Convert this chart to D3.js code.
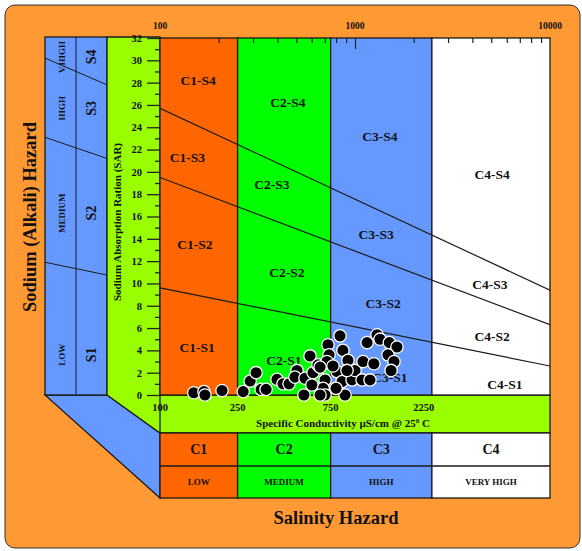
<!DOCTYPE html>
<html>
<head>
<meta charset="utf-8">
<script src="https://cdn.jsdelivr.net/npm/d3@7"></script>
<style>
  body { margin: 0; background: #fff; }
  text { font-family: "Liberation Serif", "Times New Roman", serif; font-weight: bold; fill: #111; }
</style>
</head>
<body>
<script>
// Data
var conductivity = [149, 168, 170, 208, 267, 290, 311, 330, 350, 398, 427, 459, 504, 492, 554, 588, 609, 646,
    547, 702, 686, 702, 727, 736, 718, 838, 867, 920, 809, 858, 889, 966, 1000, 1087, 1099, 1153, 1194, 1250,
    1297, 1343, 1500, 1641, 1476, 1585, 1531, 662, 662, 771, 910, 601, 799];
var sar = [0.2, 0.3, 0.0, 0.4, 0.3, 1.25, 2.0, 0.5, 0.5, 1.4, 1.0, 1.0, 2.2, 1.6, 1.5, 3.5, 2.0, 2.7,
    0.0, 1.35, 0.6, 0.0, 4.5, 3.6, 3.0, 5.3, 4.0, 3.1, 2.1, 1.2, 0.0, 1.35, 2.2, 1.35, 3.0, 4.7, 1.35, 2.8,
    5.4, 5.0, 4.7, 4.3, 3.6, 3.0, 2.2, 2.5, 0.0, 2.6, 2.2, 0.9, 0.6];

var classBreaks = [100, 250, 750, 2480, 10000];          // drawn C1..C4 boundaries
var classNames = ['C1', 'C2', 'C3', 'C4'];
var classLevels = ['LOW', 'MEDIUM', 'HIGH', 'VERY HIGH'];
var classColors = ['#ff6600', '#00ff00', '#6699ff', '#ffffff'];

// sodium hazard boundaries: SAR at 100 and at 10000 uS/cm
var sodiumLines = [[9.6, 2.6], [19.5, 6.3], [25.7, 9.4]];
// same boundaries on the left legend panel: SAR at its left and right edge
var panelLines = [[11.9, 10.75], [23.1, 21.2], [30.2, 27.8]];
var panelLevels = [['LOW', 'S1', 3.6], ['MEDIUM', 'S2', 16.3], ['HIGH', 'S3', 25.7], ['V.HIGH', 'S4', 30.3]];

var zoneLabels = [
    ['C1-S4', 157, 28.2], ['C1-S3', 138, 21.3], ['C1-S2', 151, 13.5], ['C1-S1', 155, 4.3],
    ['C2-S4', 453, 26.2], ['C2-S3', 375, 18.9], ['C2-S2', 448, 11.0], ['C2-S1', 432, 3.1],
    ['C3-S4', 1343, 23.2], ['C3-S3', 1282, 14.4], ['C3-S2', 1393, 8.2], ['C3-S1', 1510, 1.6],
    ['C4-S4', 5047, 19.8], ['C4-S3', 4923, 9.9], ['C4-S2', 5047, 5.3], ['C4-S1', 5872, 1.0]
];
var topTickLabels = [100, 1000, 10000];
var bottomTickLabels = [100, 250, 750, 2250];

// Layout
var svgWidth = 582, svgHeight = 551;
var plotLeft = 160, plotRight = 550, plotTop = 38, plotBottom = 395;
var panelLeft = 45, panelMid = 76, bandLeft = 107;
var bandBottom = 433, rowMid = 466, tableBottom = 498;
var ink = '#1a1a1a';

var xScale = d3.scaleLog().domain([100, 10000]).range([plotLeft, plotRight]);
var yScale = d3.scaleLinear().domain([0, 32]).range([plotBottom, plotTop]);

var svg = d3.select('body')
    .append('svg')
    .attr('width', svgWidth)
    .attr('height', svgHeight);

// background
svg.append('rect')
    .attr('x', 5).attr('y', 5)
    .attr('width', 575).attr('height', 543)
    .attr('rx', 10)
    .attr('fill', '#ff9933')
    .attr('stroke', '#333')
    .attr('stroke-width', 1);

// left legend panel (blue) with 3D bevel
svg.append('polygon')
    .attr('points', [[panelLeft, plotBottom], [bandLeft, plotBottom], [plotLeft, bandBottom], [plotLeft, tableBottom]].join(' '))
    .attr('fill', '#6699ff').attr('stroke', ink).attr('stroke-width', 1.3);

svg.append('rect')
    .attr('x', panelLeft).attr('y', plotTop - 1)
    .attr('width', bandLeft - panelLeft).attr('height', plotBottom - plotTop + 1)
    .attr('fill', '#6699ff').attr('stroke', ink).attr('stroke-width', 1.3);

svg.append('line')
    .attr('x1', panelMid).attr('x2', panelMid)
    .attr('y1', plotTop - 1).attr('y2', plotBottom)
    .attr('stroke', ink).attr('stroke-width', 1);

svg.selectAll('.panel-line')
    .data(panelLines)
    .enter()
    .append('line')
    .attr('class', 'panel-line')
    .attr('x1', panelLeft).attr('x2', bandLeft)
    .attr('y1', d => yScale(d[0]))
    .attr('y2', d => yScale(d[1]))
    .attr('stroke', ink).attr('stroke-width', 1);

panelLevels.forEach(function (d) {
    var yc = yScale(d[2]);
    svg.append('text')
        .attr('transform', `translate(${ (panelLeft + panelMid) / 2 + 1 }, ${ yc }) rotate(-90)`)
        .attr('text-anchor', 'middle').attr('dy', '0.35em')
        .attr('font-size', 9)
        .text(d[0]);
    svg.append('text')
        .attr('transform', `translate(${ (panelMid + bandLeft) / 2 }, ${ yc }) rotate(-90)`)
        .attr('text-anchor', 'middle').attr('dy', '0.35em')
        .attr('font-size', 14)
        .text(d[1]);
});

// lime axis band (L shape)
svg.append('polygon')
    .attr('points', [[bandLeft, plotTop - 1], [plotLeft, plotTop - 1], [plotLeft, plotBottom], [plotRight, plotBottom],
        [plotRight, bandBottom], [plotLeft, bandBottom], [bandLeft, plotBottom]].join(' '))
    .attr('fill', '#99ff00').attr('stroke', ink).attr('stroke-width', 1.3);

svg.append('line')
    .attr('x1', plotLeft).attr('x2', plotLeft)
    .attr('y1', plotBottom).attr('y2', bandBottom)
    .attr('stroke', ink).attr('stroke-width', 1.3);

// salinity class columns
var classData = classNames.map((c, i) => ({ name: c, level: classLevels[i], color: classColors[i], x0: classBreaks[i], x1: classBreaks[i + 1] }));

svg.selectAll('.zone')
    .data(classData)
    .enter()
    .append('rect')
    .attr('class', 'zone')
    .attr('x', d => xScale(d.x0))
    .attr('y', plotTop)
    .attr('width', d => xScale(d.x1) - xScale(d.x0))
    .attr('height', plotBottom - plotTop)
    .attr('fill', d => d.color)
    .attr('stroke', ink).attr('stroke-width', 1.3);

// sodium hazard lines
svg.append('clipPath')
    .attr('id', 'plot-area')
    .append('rect')
    .attr('x', plotLeft).attr('y', plotTop)
    .attr('width', plotRight - plotLeft).attr('height', plotBottom - plotTop);

svg.append('g')
    .attr('clip-path', 'url(#plot-area)')
    .selectAll('line')
    .data(sodiumLines)
    .enter()
    .append('line')
    .attr('x1', xScale(100)).attr('x2', xScale(10000))
    .attr('y1', d => yScale(d[0]))
    .attr('y2', d => yScale(d[1]))
    .attr('stroke', ink).attr('stroke-width', 1.2);

// zone labels
svg.selectAll('.zone-label')
    .data(zoneLabels)
    .enter()
    .append('text')
    .attr('class', 'zone-label')
    .attr('x', d => xScale(d[1]))
    .attr('y', d => yScale(d[2]))
    .attr('dy', '0.35em')
    .attr('text-anchor', 'middle')
    .attr('font-size', 13.5)
    .text(d => d[0]);

// SAR axis
var evens = d3.range(0, 33, 2), odds = d3.range(1, 32, 2);
var yAxis = d3.axisLeft(yScale).tickValues(evens).tickSize(13).tickPadding(5);
var yMinor = d3.axisLeft(yScale).tickValues(odds).tickSize(5).tickFormat('');

var gy = svg.append('g')
    .attr('class', 'y axis')
    .attr('transform', `translate(${ plotLeft }, 0)`)
    .call(yAxis);
svg.append('g')
    .attr('class', 'y minor')
    .attr('transform', `translate(${ plotLeft }, 0)`)
    .call(yMinor);
svg.selectAll('.y path').remove();
svg.selectAll('.y line').attr('stroke', '#222').attr('stroke-width', 1.3);
gy.selectAll('text')
    .attr('font-family', '"Liberation Serif", serif')
    .attr('font-weight', 'bold')
    .attr('font-size', 10.5)
    .attr('fill', '#111');

// top log ticks
var xTop = d3.axisBottom(xScale)
    .tickValues([200, 300, 400, 500, 600, 700, 800, 900, 2000, 3000, 4000, 5000, 6000, 7000, 8000, 9000])
    .tickSize(5).tickFormat('');
svg.append('g')
    .attr('class', 'x top')
    .attr('transform', `translate(0, ${ plotTop })`)
    .call(xTop);
svg.append('g')
    .attr('class', 'x top')
    .attr('transform', `translate(0, ${ plotTop })`)
    .call(d3.axisBottom(xScale).tickValues([1000]).tickSize(11).tickFormat(''));
svg.selectAll('.top path').remove();
svg.selectAll('.top line').attr('stroke', '#222').attr('stroke-width', 1.2);

svg.selectAll('.top-label')
    .data(topTickLabels)
    .enter()
    .append('text')
    .attr('class', 'top-label')
    .attr('x', d => xScale(d))
    .attr('y', 29)
    .attr('text-anchor', 'middle')
    .attr('font-size', 9.5)
    .text(d => d);

svg.selectAll('.bottom-label')
    .data(bottomTickLabels)
    .enter()
    .append('text')
    .attr('class', 'bottom-label')
    .attr('x', d => xScale(d))
    .attr('y', 411)
    .attr('text-anchor', 'middle')
    .attr('font-size', 10.5)
    .text(d => d);

svg.append('text')
    .attr('x', 343).attr('y', 427)
    .attr('text-anchor', 'middle')
    .attr('font-size', 11)
    .html('Specific Conductivity µS/cm @ 25<tspan dy="-4" font-size="7">0</tspan><tspan dy="4"> C</tspan>');

// sample points
var points = conductivity.map((c, i) => [c, sar[i]]);

svg.append('g')
    .attr('id', 'samples')
    .selectAll('circle')
    .data(points)
    .enter()
    .append('circle')
    .attr('cx', d => xScale(d[0]))
    .attr('cy', d => yScale(d[1]))
    .attr('r', 6.2)
    .attr('fill', '#000')
    .attr('stroke', '#fff')
    .attr('stroke-width', 1.3);

// salinity class table
var cells = svg.selectAll('.cls')
    .data(classData)
    .enter()
    .append('g')
    .attr('class', 'cls');

cells.append('rect')
    .attr('x', d => xScale(d.x0))
    .attr('y', bandBottom)
    .attr('width', d => xScale(d.x1) - xScale(d.x0))
    .attr('height', tableBottom - bandBottom)
    .attr('fill', d => d.color)
    .attr('stroke', ink).attr('stroke-width', 1.3);

cells.append('line')
    .attr('x1', d => xScale(d.x0)).attr('x2', d => xScale(d.x1))
    .attr('y1', rowMid).attr('y2', rowMid)
    .attr('stroke', ink).attr('stroke-width', 1.3);

cells.append('text')
    .attr('x', d => (xScale(d.x0) + xScale(d.x1)) / 2)
    .attr('y', (bandBottom + rowMid) / 2)
    .attr('dy', '0.35em')
    .attr('text-anchor', 'middle')
    .attr('font-size', 14)
    .text(d => d.name);

cells.append('text')
    .attr('x', d => (xScale(d.x0) + xScale(d.x1)) / 2)
    .attr('y', (rowMid + tableBottom) / 2)
    .attr('dy', '0.35em')
    .attr('text-anchor', 'middle')
    .attr('font-size', 9)
    .text(d => d.level);

// titles
svg.append('text')
    .attr('transform', 'translate(30, 217) rotate(-90)')
    .attr('text-anchor', 'middle')
    .attr('dy', '0.35em')
    .attr('font-size', 18.5)
    .text('Sodium (Alkali) Hazard');

svg.append('text')
    .attr('transform', 'translate(117, 222) rotate(-90)')
    .attr('text-anchor', 'middle')
    .attr('dy', '0.35em')
    .attr('font-size', 11)
    .text('Sodium Absorption Ration (SAR)');

svg.append('text')
    .attr('x', 336).attr('y', 524)
    .attr('text-anchor', 'middle')
    .attr('font-size', 18.5)
    .text('Salinity Hazard');
</script>
</body>
</html>
